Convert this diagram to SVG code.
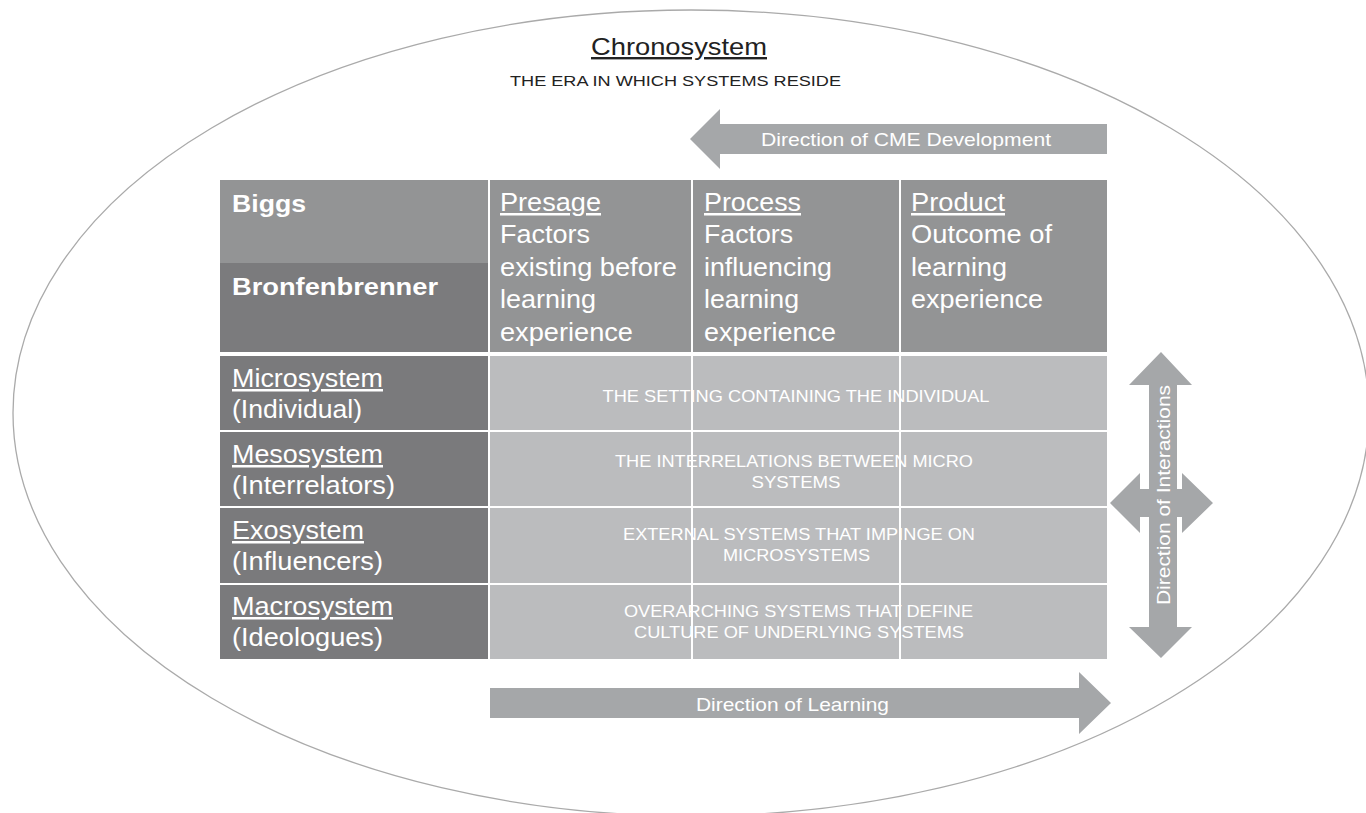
<svg xmlns="http://www.w3.org/2000/svg" width="1366" height="813" viewBox="0 0 1366 813">
  <style>
    text { font-family: "Liberation Sans", Arial, sans-serif; }
    .hdr { fill: #939495; }
    .bron { fill: #7b7b7d; }
    .side { fill: #7a7a7c; }
    .body { fill: #bbbcbe; }
    .arrow { fill: #a5a7a9; }
    .big { font-size: 25px; fill: #ffffff; }
    .bold { font-size: 23px; font-weight: bold; fill: #ffffff; }
    .caps { font-size: 17px; fill: #ffffff; text-anchor: middle; }
    .lbl { font-size: 19px; fill: #ffffff; text-anchor: middle; }
    .u { text-decoration: underline; }
    .grid { stroke: #ffffff; stroke-width: 2; }
  </style>

  <rect width="1366" height="813" fill="#ffffff"/>

  <!-- outer chronosystem ellipse -->
  <g id="chronosystem">
    <ellipse cx="691" cy="413" rx="678" ry="403" fill="none" stroke="#aaaaaa" stroke-width="1.3"/>
    <text x="679" y="55" font-size="24" fill="#222222" text-anchor="middle" class="u" textLength="176" lengthAdjust="spacingAndGlyphs">Chronosystem</text>
    <text x="675.5" y="86" font-size="15.5" fill="#222222" text-anchor="middle" textLength="331" lengthAdjust="spacingAndGlyphs">THE ERA IN WHICH SYSTEMS RESIDE</text>
  </g>

  <!-- header row -->
  <g id="biggs">
    <rect class="hdr" x="220" y="180" width="268" height="83"/>
    <text class="bold" x="232" y="212" textLength="74" lengthAdjust="spacingAndGlyphs">Biggs</text>
  </g>
  <g id="bronfenbrenner">
    <rect class="bron" x="220" y="263" width="268" height="89"/>
    <text class="bold" x="232" y="295" textLength="206" lengthAdjust="spacingAndGlyphs">Bronfenbrenner</text>
  </g>
  <g id="presage">
    <rect class="hdr" x="490" y="180" width="201" height="172"/>
    <text class="big u" x="500" y="211" textLength="101" lengthAdjust="spacingAndGlyphs">Presage</text>
    <text class="big" x="500" y="243.4" textLength="90" lengthAdjust="spacingAndGlyphs">Factors</text>
    <text class="big" x="500" y="275.8" textLength="177" lengthAdjust="spacingAndGlyphs">existing before</text>
    <text class="big" x="500" y="308.2" textLength="96" lengthAdjust="spacingAndGlyphs">learning</text>
    <text class="big" x="500" y="340.6" textLength="133" lengthAdjust="spacingAndGlyphs">experience</text>
  </g>
  <g id="process">
    <rect class="hdr" x="693" y="180" width="206" height="172"/>
    <text class="big u" x="704" y="211" textLength="97" lengthAdjust="spacingAndGlyphs">Process</text>
    <text class="big" x="704" y="243.4" textLength="89" lengthAdjust="spacingAndGlyphs">Factors</text>
    <text class="big" x="704" y="275.8" textLength="128" lengthAdjust="spacingAndGlyphs">influencing</text>
    <text class="big" x="704" y="308.2" textLength="95" lengthAdjust="spacingAndGlyphs">learning</text>
    <text class="big" x="704" y="340.6" textLength="132" lengthAdjust="spacingAndGlyphs">experience</text>
  </g>
  <g id="product">
    <rect class="hdr" x="901" y="180" width="206" height="172"/>
    <text class="big u" x="911" y="211" textLength="94" lengthAdjust="spacingAndGlyphs">Product</text>
    <text class="big" x="911" y="243.4" textLength="141" lengthAdjust="spacingAndGlyphs">Outcome of</text>
    <text class="big" x="911" y="275.8" textLength="96" lengthAdjust="spacingAndGlyphs">learning</text>
    <text class="big" x="911" y="308.2" textLength="132" lengthAdjust="spacingAndGlyphs">experience</text>
  </g>

  <!-- system rows -->
  <g id="microsystem">
    <rect class="side" x="220" y="356" width="268" height="74"/>
    <rect class="body" x="490" y="356" width="617" height="74"/>
    <text class="big u" x="232" y="387" textLength="151" lengthAdjust="spacingAndGlyphs">Microsystem</text>
    <text class="big" x="232" y="418" textLength="130" lengthAdjust="spacingAndGlyphs">(Individual)</text>
    <text class="caps" x="796" y="402" textLength="387" lengthAdjust="spacingAndGlyphs">THE SETTING CONTAINING THE INDIVIDUAL</text>
  </g>
  <g id="mesosystem">
    <rect class="side" x="220" y="432" width="268" height="74"/>
    <rect class="body" x="490" y="432" width="617" height="74"/>
    <text class="big u" x="232" y="463" textLength="151" lengthAdjust="spacingAndGlyphs">Mesosystem</text>
    <text class="big" x="232" y="494" textLength="163" lengthAdjust="spacingAndGlyphs">(Interrelators)</text>
    <text class="caps" x="794" y="467" textLength="358" lengthAdjust="spacingAndGlyphs">THE INTERRELATIONS BETWEEN MICRO</text>
    <text class="caps" x="796" y="487.5" textLength="89" lengthAdjust="spacingAndGlyphs">SYSTEMS</text>
  </g>
  <g id="exosystem">
    <rect class="side" x="220" y="508" width="268" height="75"/>
    <rect class="body" x="490" y="508" width="617" height="75"/>
    <text class="big u" x="232" y="539" textLength="132" lengthAdjust="spacingAndGlyphs">Exosystem</text>
    <text class="big" x="232" y="570" textLength="151" lengthAdjust="spacingAndGlyphs">(Influencers)</text>
    <text class="caps" x="799" y="540" textLength="352" lengthAdjust="spacingAndGlyphs">EXTERNAL SYSTEMS THAT IMPINGE ON</text>
    <text class="caps" x="796.5" y="560.5" textLength="147" lengthAdjust="spacingAndGlyphs">MICROSYSTEMS</text>
  </g>
  <g id="macrosystem">
    <rect class="side" x="220" y="585" width="268" height="74"/>
    <rect class="body" x="490" y="585" width="617" height="74"/>
    <text class="big u" x="232" y="615" textLength="161" lengthAdjust="spacingAndGlyphs">Macrosystem</text>
    <text class="big" x="232" y="646" textLength="151" lengthAdjust="spacingAndGlyphs">(Ideologues)</text>
    <text class="caps" x="798.5" y="617" textLength="349" lengthAdjust="spacingAndGlyphs">OVERARCHING SYSTEMS THAT DEFINE</text>
    <text class="caps" x="799" y="638" textLength="330" lengthAdjust="spacingAndGlyphs">CULTURE OF UNDERLYING SYSTEMS</text>
  </g>

  <!-- column rules running through the system rows -->
  <g id="column-rules">
    <line class="grid" x1="692" y1="356" x2="692" y2="659"/>
    <line class="grid" x1="900" y1="356" x2="900" y2="659"/>
  </g>

  <!-- direction arrows -->
  <g id="connectors">
    <g id="cme-development">
      <polygon class="arrow" points="1107,124 720,124 720,109 690,139 720,169 720,154 1107,154"/>
      <text class="lbl" x="906" y="146" textLength="290" lengthAdjust="spacingAndGlyphs">Direction of CME Development</text>
    </g>
    <g id="learning">
      <polygon class="arrow" points="490,688 1079,688 1079,672 1111,703 1079,734 1079,718 490,718"/>
      <text class="lbl" x="792.5" y="711" textLength="193" lengthAdjust="spacingAndGlyphs">Direction of Learning</text>
    </g>
    <g id="interactions">
      <polygon class="arrow" points="1161,352 1192,385 1177,385 1177,627 1192,627 1161,658 1129,627 1149,627 1149,385 1129,385"/>
      <polygon class="arrow" points="1110,503 1140,473 1140,489 1182,489 1182,473 1213,503 1182,533 1182,517 1140,517 1140,533"/>
      <text class="lbl" transform="translate(1170,495) rotate(-90)" textLength="220" lengthAdjust="spacingAndGlyphs">Direction of Interactions</text>
    </g>
  </g>
</svg>
